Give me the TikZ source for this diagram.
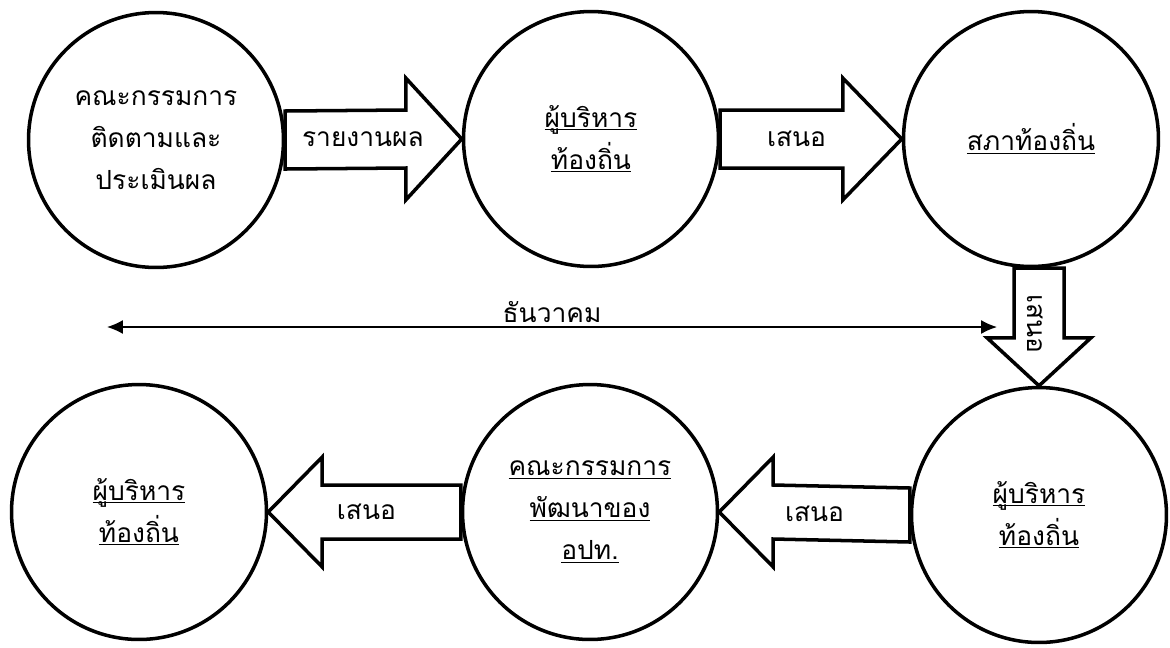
\documentclass[tikz,border=0pt]{standalone}
\usepackage{fontspec}
\newfontfamily\thaifont[Script=Thai]{Loma}
\newcommand\thaiul[1]{\underline{\raisebox{0pt}[\height][0pt]{#1}}}
\usetikzlibrary{calc,arrows.meta}

\begin{document}
\begin{tikzpicture}[x=0.02cm,y=-0.02cm,
  every node/.style={font=\thaifont\fontsize{15}{24}\selectfont},
  main node/.style={circle,draw,line width=2pt,minimum size=5.1cm,inner sep=0pt,align=center},
  block arrow/.style={draw,fill=white,line width=2pt,line join=miter}]
  \useasboundingbox (0,0) rectangle (1170,647);
  % circles, top row then bottom row
  \node[main node] (1) at (156,140) {คณะกรรมการ\\ติดตามและ\\ประเมินผล};
  \node[main node] (2) at (591,139) {\thaiul{ผู้บริหาร}\\\thaiul{ท้องถิ่น}};
  \node[main node] (3) at (1031,139) {\thaiul{สภาท้องถิ่น}};
  \node[main node] (4) at (1039,515) {\thaiul{ผู้บริหาร}\\\thaiul{ท้องถิ่น}};
  \node[main node] (5) at (590,512) {\thaiul{คณะกรรมการ}\\\thaiul{พัฒนาของ}\\\thaiul{อปท.}};
  \node[main node] (6) at (139,512) {\thaiul{ผู้บริหาร}\\\thaiul{ท้องถิ่น}};

  % block arrows
  \draw[block arrow] ($(1.east)+(0,-29)$) -- ($(2.west)+(-56,-29)$) -- ($(2.west)+(-56,-61)$) -- (2.west)
    -- ($(2.west)+(-56,61)$) -- ($(2.west)+(-56,29)$) -- ($(1.east)+(0,29)$) -- cycle;
  \draw[block arrow] ($(2.east)+(0,-29)$) -- ($(3.west)+(-59,-29)$) -- ($(3.west)+(-59,-61)$) -- (3.west)
    -- ($(3.west)+(-59,61)$) -- ($(3.west)+(-59,29)$) -- ($(2.east)+(0,29)$) -- cycle;
  \draw[block arrow] ($(3.south -| 4.north)+(-25,0)$) -- ($(4.north)+(-25,-48)$) -- ($(4.north)+(-52,-48)$) -- (4.north)
    -- ($(4.north)+(52,-48)$) -- ($(4.north)+(25,-48)$) -- ($(3.south -| 4.north)+(25,0)$) -- cycle;
  \draw[block arrow] ($(4.west)+(0,-27)$) -- ($(5.east)+(54,-27)$) -- ($(5.east)+(54,-55)$) -- (5.east)
    -- ($(5.east)+(54,55)$) -- ($(5.east)+(54,27)$) -- ($(4.west)+(0,27)$) -- cycle;
  \draw[block arrow] ($(5.west)+(0,-27)$) -- ($(6.east)+(54,-27)$) -- ($(6.east)+(54,-55)$) -- (6.east)
    -- ($(6.east)+(54,55)$) -- ($(6.east)+(54,27)$) -- ($(5.west)+(0,27)$) -- cycle;

  % arrow labels
  \node (r12) at ($(1.east)!0.44!(2.west)$) {รายงานผล};
  \node (r23) at ($(2.east)!0.42!(3.west)$) {เสนอ};
  \node[rotate=-90] (r34) at ($(3.south -| 4.north)!0.47!(4.north)+(-4,0)$) {เสนอ};
  \node (r45) at ($(4.west)!0.5!(5.east)$) {เสนอ};
  \node (r56) at ($(5.west)!0.49!(6.east)$) {เสนอ};

  % time span
  \coordinate (span l) at (107,327);
  \coordinate (span r) at (997,327);
  \draw[{Latex[length=3.2mm,width=2.8mm]}-{Latex[length=3.2mm,width=2.8mm]},line width=0.8pt]
    (span l) -- node[above,inner sep=2pt] (month) {ธันวาคม} (span r);
\end{tikzpicture}
\end{document}
